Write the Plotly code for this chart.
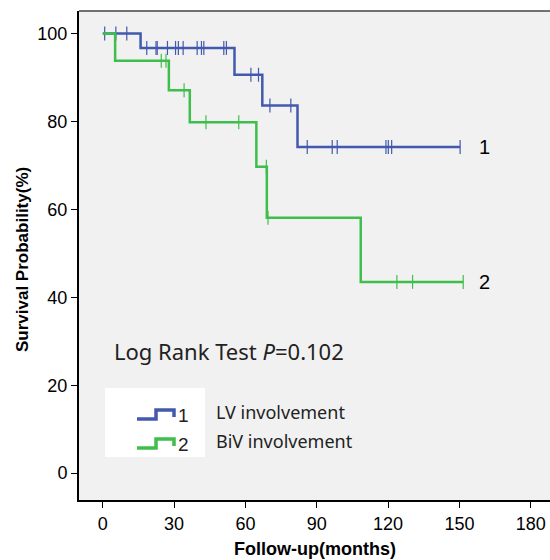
import plotly.graph_objects as go

# ---- data ----
lv_drop_times = [0, 15.9, 55.4, 67.1, 81.9]
lv_levels = [100, 96.7, 90.6, 83.6, 74.2]
lv_end = 150.3
lv_censor_times = [0.8, 5.5, 10.1, 18.5, 22.4, 22.9, 27.2, 30.6, 31.8, 33.8, 39.7,
                   41.5, 42.5, 50.9, 52.0, 62.3, 65.5, 70.3, 79.1, 86.0, 96.5, 98.6,
                   119.1, 120.1, 121.5, 150.3]

biv_drop_times = [0, 5.2, 27.8, 36.6, 64.6, 69.0, 108.5]
biv_levels = [100, 93.8, 87.1, 79.8, 69.7, 58.1, 43.5]
biv_end = 151.6
biv_censor_times = [24.6, 26.6, 34.2, 43.4, 57.2, 68.8, 69.5, 123.7, 130.3, 151.6]

x_ticks = [0, 30, 60, 90, 120, 150, 180]
y_ticks = [0, 20, 40, 60, 80, 100]

BLUE = "#4259AE"
GREEN = "#3EBE4C"

W, H = 550, 560
ML, MT = 79, 11
AXIS_BOTTOM = 500
MB = H - AXIS_BOTTOM
PW, PH = W - ML, H - MT - MB


def step_level(t, times, levels):
    lvl = levels[0]
    for tt, lv in zip(times, levels):
        if t >= tt:
            lvl = lv
    return lvl


def px(xp):
    """window x pixel -> paper fraction"""
    return (xp - ML) / PW


def py(yp):
    """window y pixel -> paper fraction"""
    return (AXIS_BOTTOM - yp) / PH


fig = go.Figure()

for times, levels, end, cens, col in [
    (lv_drop_times, lv_levels, lv_end, lv_censor_times, BLUE),
    (biv_drop_times, biv_levels, biv_end, biv_censor_times, GREEN),
]:
    xs = list(times) + [end]
    ys = list(levels) + [levels[-1]]
    fig.add_trace(go.Scatter(x=xs, y=ys, mode="lines", line_shape="hv",
                             line=dict(color=col, width=2.5), hoverinfo="skip",
                             showlegend=False))
    fig.add_trace(go.Scatter(x=cens, y=[step_level(c, times, levels) for c in cens],
                             mode="markers",
                             marker=dict(symbol="line-ns", size=10,
                                         line=dict(color=col, width=1.2)),
                             showlegend=False, hoverinfo="skip"))

# curve labels
fig.add_annotation(x=160.4, y=lv_levels[-1], text="1", showarrow=False,
                   font=dict(family="Liberation Sans, Arial", size=20, color="black"))
fig.add_annotation(x=160.4, y=biv_levels[-1], text="2", showarrow=False,
                   font=dict(family="Liberation Sans, Arial", size=20, color="black"))

# log rank text
fig.add_annotation(xref="paper", yref="paper", x=px(112), y=py(351),
                   xanchor="left", yanchor="middle",
                   text="Log Rank Test <i>P</i>=0.102", showarrow=False,
                   font=dict(family="Noto Sans, Open Sans", size=22, color="#222"))

# legend box
fig.add_shape(type="rect", xref="paper", yref="paper",
              x0=px(105), x1=px(205), y0=py(457), y1=py(388),
              fillcolor="white", line=dict(width=0), layer="above")

for pts, col, lab, ty, txt in [
    ([(137, 419), (156, 419), (156, 410), (174, 410), (174, 417)], BLUE, "1", 414, "LV involvement"),
    ([(137, 448), (156, 448), (156, 439), (174, 439), (174, 446)], GREEN, "2", 443, "BiV involvement"),
]:
    path = "M " + " L ".join(f"{px(a):.4f},{py(b):.4f}" for a, b in pts)
    fig.add_shape(type="path", xref="paper", yref="paper", path=path,
                  line=dict(color=col, width=3.5), layer="above")
    fig.add_annotation(xref="paper", yref="paper", x=px(176), y=py(ty + 1),
                       xanchor="left", yanchor="middle", text=lab, showarrow=False,
                       font=dict(family="Liberation Sans, Arial", size=19, color="#222"))
    fig.add_annotation(xref="paper", yref="paper", x=px(214), y=py(ty - 2),
                       xanchor="left", yanchor="middle", text=txt, showarrow=False,
                       font=dict(family="Noto Sans, Open Sans", size=18, color="#222"))

# axis titles
fig.add_annotation(xref="paper", yref="paper", x=0.5, y=py(549),
                   xanchor="center", yanchor="middle", showarrow=False,
                   text="<b>Follow-up(months)</b>",
                   font=dict(family="Liberation Sans, Arial", size=18, color="black"))
fig.add_annotation(xref="paper", yref="paper", x=px(22), y=py(260),
                   xanchor="center", yanchor="middle", showarrow=False, textangle=-90,
                   text="<b>Survival Probability(%)</b>",
                   font=dict(family="Liberation Sans, Arial", size=17, color="black"))

# top border
fig.add_shape(type="line", xref="paper", yref="paper", x0=0, x1=1, y0=1, y1=1,
              line=dict(color="#444", width=1.5))

fig.update_layout(
    width=W, height=H,
    margin=dict(l=ML, r=0, t=MT, b=MB, autoexpand=False),
    paper_bgcolor="white", plot_bgcolor="#F1F1F1",
    font=dict(family="Liberation Sans, Arial", size=18, color="black"),
    showlegend=False,
)
fig.update_xaxes(range=[-10.0, 188.1], tickvals=x_ticks, ticks="outside", ticklen=6,
                 tickwidth=1, tickcolor="black", showline=True, linecolor="black",
                 linewidth=2, showgrid=False, zeroline=False, automargin=False,
                 tickfont=dict(size=18))
fig.update_yaxes(range=[-6.1, 105.1], tickvals=y_ticks, ticks="outside", ticklen=6,
                 tickwidth=1, tickcolor="black", showline=True, linecolor="black",
                 linewidth=2, showgrid=False, zeroline=False, automargin=False,
                 tickfont=dict(size=18))

fig.write_html("out.html",
               config={"displayModeBar": False},
               post_script="document.body.style.margin='0';"
                           "document.body.style.overflow='hidden';")
